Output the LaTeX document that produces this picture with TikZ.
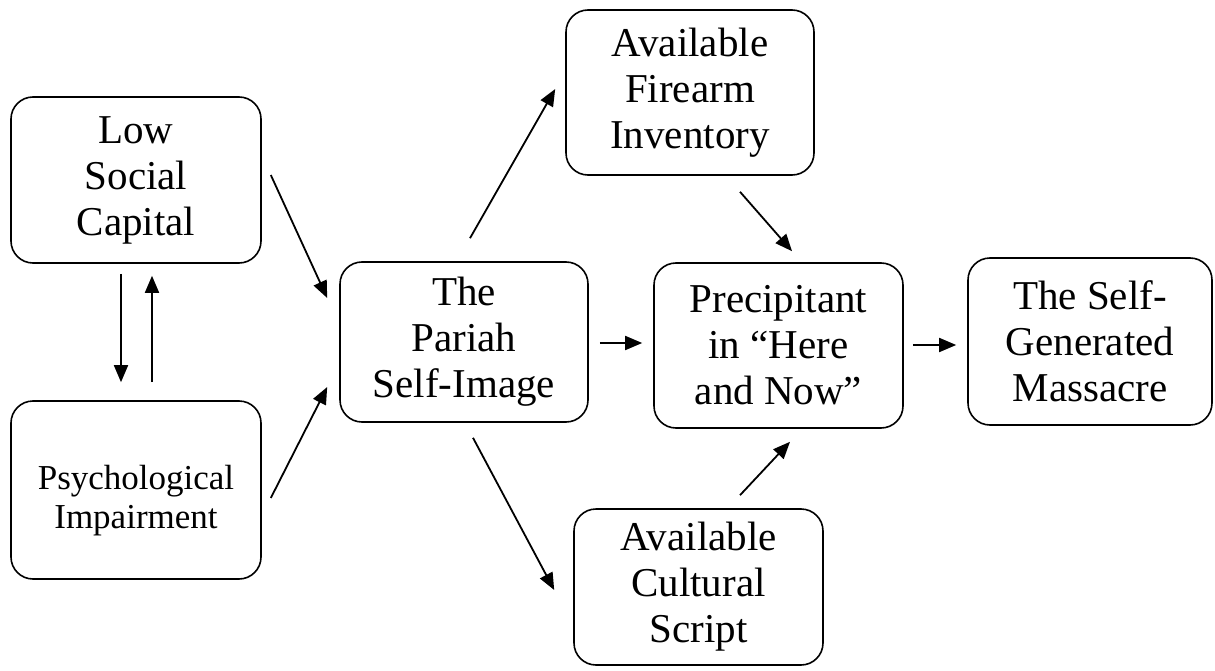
\documentclass[tikz,border=0pt]{standalone}
\usepackage{fontspec}
\setmainfont{Liberation Serif}
\usetikzlibrary{arrows.meta,calc}
\tikzset{
  box/.style={draw, line width=1.6pt, rounded corners=22pt, align=center, inner sep=0pt,
    font=\fontsize{41}{46}\selectfont},
  smallbox/.style={box, font=\fontsize{35}{39}\selectfont},
  arr/.style={line width=1.8pt, -{Triangle[length=17pt,width=14pt]}}
}
\begin{document}
\begin{tikzpicture}[x=1pt,y=-1pt]
\useasboundingbox (0,0) rectangle (1215,671);
\node[box, minimum width=250pt, minimum height=166pt] (low) at (136,180) {Low\\Social\\Capital};
\node[smallbox, minimum width=250pt, minimum height=178pt] (psych) at (136,490) {\rule{0pt}{46pt}Psychological\\Impairment};
\node[box, minimum width=248pt, minimum height=160pt] (pariah) at (464,342) {The\\Pariah\\Self-Image};
\node[box, minimum width=248pt, minimum height=165pt] (firearm) at (690,92.5) {Available\\Firearm\\Inventory};
\node[box, minimum width=249pt, minimum height=165pt] (prec) at (778.5,345.5) {Precipitant\\in “Here\\and Now”};
\node[box, minimum width=244pt, minimum height=167pt] (mass) at (1090,341.5) {The Self-\\Generated\\Massacre};
\node[box, minimum width=249pt, minimum height=156pt] (cult) at (698.5,587) {Available\\Cultural\\Script};

\draw[arr] ($(low.east)+(9,-5)$) -- ($(pariah.west)+(-12,-44)$);
\draw[arr] ($(psych.east)+(9,8)$) -- ($(pariah.west)+(-12,45)$);
\draw[arr] ($(low.south)+(-15,10)$) -- ($(psych.north)+(-15,-18)$);
\draw[arr] ($(psych.north)+(16,-18)$) -- ($(low.south)+(16,12)$);
\draw[arr] ($(pariah.north)+(6,-23)$) -- ($(firearm.west)+(-10,-3.5)$);
\draw[arr] ($(pariah.south)+(9,15)$) -- ($(cult.west)+(-19,3)$);
\draw[arr] ($(pariah.east)+(11,1)$) -- ($(prec.west)+(-11,-2.5)$);
\draw[arr] ($(firearm.south)+(50,16)$) -- ($(prec.north)+(13.5,-11)$);
\draw[arr] ($(cult.north)+(41.5,-13)$) -- ($(prec.south)+(11.5,13)$);
\draw[arr] ($(prec.east)+(9,-0.5)$) -- ($(mass.west)+(-11,3.5)$);
\end{tikzpicture}
\end{document}
